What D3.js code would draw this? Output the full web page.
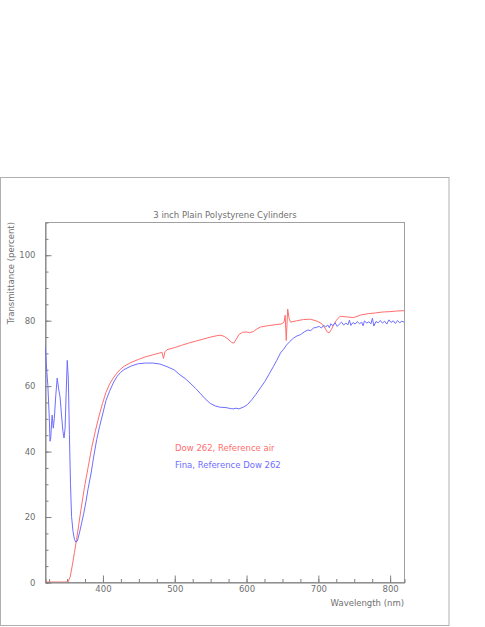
<!DOCTYPE html>
<html><head><meta charset="utf-8">
<script src="https://cdn.jsdelivr.net/npm/d3@7"></script>
<style>body{margin:0;background:#fff}svg{display:block}text{font-family:"DejaVu Sans",sans-serif;}</style>
</head><body>
<script>
const title = "3 inch Plain Polystyrene Cylinders";
const xLabel = "Wavelength (nm)";
const yLabel = "Transmittance (percent)";
const seriesNames = ["Dow 262, Reference air", "Fina, Reference Dow 262"];
const xTicks = [400, 500, 600, 700, 800];
const yTicks = [0, 20, 40, 60, 80, 100];

const redWl = [320,340,352,355,358,361,364,367,370,375,380,385,390,395,400,405,410,415,420,425,430,440,450,460,470,480,483,485,487,490,500,510,520,530,540,550,560,565,570,575,580,583,586,590,595,600,605,610,615,620,630,640,650,653,654.5,656,658,660,662,670,680,690,700,705,710,713,716,719,722,726,731,740,750,760,770,780,790,800,810,820];
const redT = [0,0,0,1.5,5,9,13,17.5,22,29,35,41,46,50.5,54.5,58,60.5,62.3,63.8,65,65.9,67.1,68,68.8,69.4,70,70.2,68.3,70.3,71,71.6,72.3,73,73.6,74.2,74.8,75.3,75.4,75,74.2,73.2,73,74,75.6,76.3,76.4,76.2,76.5,77.3,77.9,78.3,78.6,78.9,79.5,81.5,73.8,83.4,80.5,79.4,79.8,80.2,80.3,79.6,79,77.6,76.4,76.2,77.2,78.6,80,81.2,81,80.8,81.6,82,82.2,82.5,82.6,82.8,82.9];

const blueWl = [320,321,322,324,326,327,328,329,330,331.5,333,335,337,339,341,343,345,346.5,348,349.5,351,352.5,354,355.5,357,359,361,363,365,368,371,374,377,380,384,388,392,396,400,405,410,415,420,425,430,440,450,460,470,480,490,500,508,515,522,530,536,543,550,557,564,572,578,582,586,590,596,602,608,614,620,626,632,638,643,648,652,656,661,666,671,676,681,686,690,694,698,702,705,708,711,714,716,718,721,724,727,730,733,736,739,742,744,746,749,752,755,758,761,763,765,768,771,774,776,778,781,784,787,790,793,796,799,802,805,808,811,814,817,820];
const blueT = [72,70,66,60,50,43,44,48,51,47,50,57,62.3,59,56.5,51,46,44,47,58,67.7,62,45,30,20,15.5,13,12.2,12.5,15,18,21,24.5,28.5,33,38.5,43.5,47.5,51,55.5,58.3,60.8,62.7,64,64.9,66,66.7,66.9,66.9,66.6,65.8,64.8,63.3,62.2,60.8,59.1,57.7,56,54.6,53.8,53.4,53.3,53,52.9,53.1,52.9,53.4,54.2,55.7,57.4,59.3,61.2,63.5,65.8,67.8,70,71,72.3,73.5,74.5,75.2,75.6,76.4,77,76.8,77.6,77.8,78.1,77.6,78.4,78,78.5,77.7,78.9,78.3,79.2,78.1,78.8,79.4,78.5,79.1,78.6,80,78.4,79.3,78.8,79.6,78.9,79.4,78.3,79.8,79.1,79.5,78.9,80.6,78.2,79.6,79.2,79.9,79.1,79.7,78.8,80.1,79.3,79.8,79,79.9,79.2,79.7,79.4];

const W = 485, H = 627;
const m = {left:45, right:404, top:222, bottom:582};
const svg = d3.select("body").append("svg").attr("width", W).attr("height", H);

// outer frame
svg.append("rect").attr("x",0.5).attr("y",177.5).attr("width",448.5).attr("height",448)
  .attr("fill","none").attr("stroke","#b0b0b0").attr("stroke-width",1);

const x = d3.scaleLinear().domain([320, 820]).range([m.left, m.right]);
const y = d3.scaleLinear().domain([0, 110]).range([m.bottom, m.top]);

const axisCol = "#808080", txtCol = "#707070";

// plot frame
svg.append("rect").attr("x",m.left+0.5).attr("y",m.top+0.5)
  .attr("width",m.right-m.left).attr("height",m.bottom-m.top)
  .attr("fill","none").attr("stroke","#a0a0a0").attr("stroke-width",1);

// x axis
const gx = svg.append("g").attr("transform",`translate(0.5,${m.bottom+0.5})`);
gx.call(d3.axisBottom(x).tickValues(d3.range(325, 821, 25)).tickSize(-3.5).tickFormat(""))
  .call(g=>g.select(".domain").attr("stroke",axisCol))
  .call(g=>g.selectAll("line").attr("stroke",axisCol));
gx.append("g").call(d3.axisBottom(x).tickValues(xTicks).tickSize(-7).tickPadding(3.5))
  .call(g=>g.select(".domain").remove())
  .call(g=>g.selectAll("line").attr("stroke",axisCol))
  .call(g=>g.selectAll("text").attr("fill",txtCol).attr("font-size","8.5px").attr("font-family","DejaVu Sans"));

// y axis
const gy = svg.append("g").attr("transform",`translate(${m.left+0.5},0.5)`);
gy.call(d3.axisLeft(y).tickValues(d3.range(0, 110, 5)).tickSize(-3).tickFormat(""))
  .call(g=>g.select(".domain").attr("stroke",axisCol))
  .call(g=>g.selectAll("line").attr("stroke",axisCol));
gy.append("g").call(d3.axisLeft(y).tickValues(yTicks).tickSize(-6).tickPadding(10))
  .call(g=>g.select(".domain").remove())
  .call(g=>g.selectAll("line").attr("stroke",axisCol))
  .call(g=>g.selectAll("text").attr("fill",txtCol).attr("font-size","8.5px").attr("font-family","DejaVu Sans"));

// lines
const clip = svg.append("clipPath").attr("id","c").append("rect")
  .attr("x",m.left).attr("y",m.top-2).attr("width",m.right-m.left).attr("height",m.bottom-m.top+2);
const line = d3.line().x(d=>x(d[0])).y(d=>y(d[1]));
const redCol = "#ff6e6e", blueCol = "#6e6eff";
svg.append("path").datum(redWl.map((w,i)=>[w,redT[i]])).attr("d",line)
  .attr("fill","none").attr("stroke",redCol).attr("stroke-width",1).attr("clip-path","url(#c)");
svg.append("path").datum(blueWl.map((w,i)=>[w,blueT[i]])).attr("d",line)
  .attr("fill","none").attr("stroke",blueCol).attr("stroke-width",1).attr("clip-path","url(#c)");

// title
svg.append("text").attr("x",225).attr("y",218).attr("text-anchor","middle")
  .attr("fill",txtCol).attr("font-size","8.5px").text(title);
// x label
svg.append("text").attr("x",m.right).attr("y",606).attr("text-anchor","end")
  .attr("fill",txtCol).attr("font-size","8.5px").text(xLabel);
// y label
svg.append("text").attr("transform",`translate(14,${m.top}) rotate(-90)`).attr("text-anchor","end")
  .attr("fill",txtCol).attr("font-size","8.5px").text(yLabel);
// legend
const legCols = [redCol, blueCol];
seriesNames.forEach((s,i)=>{
  svg.append("text").attr("x",175).attr("y",451+i*16.5).attr("fill",legCols[i])
    .attr("font-size","8.5px").text(s);
});
</script>
</body></html>
